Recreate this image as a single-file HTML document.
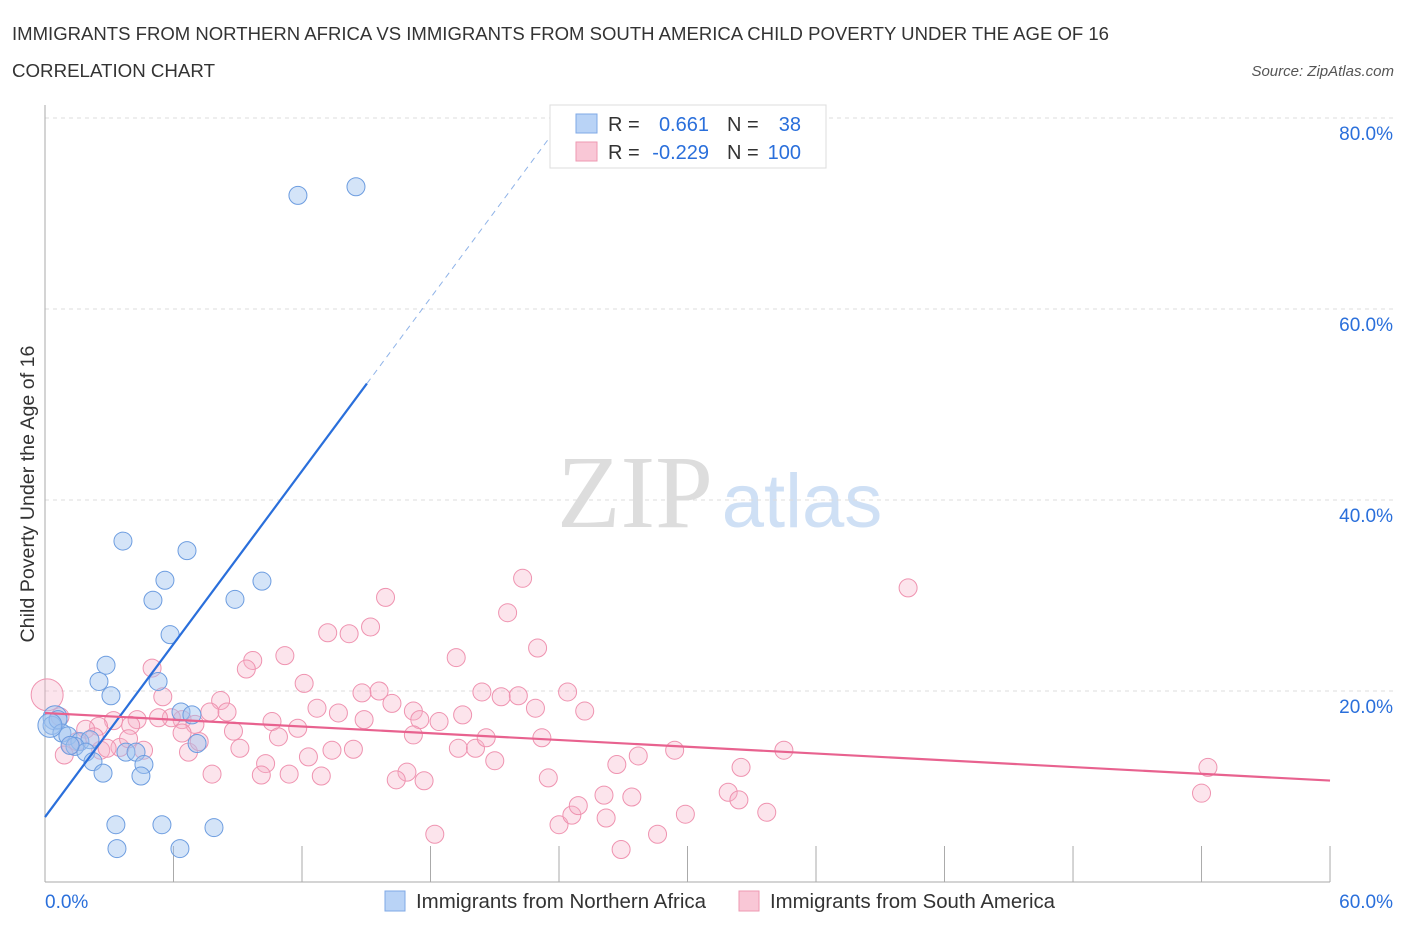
<!DOCTYPE html>
<html><head><meta charset="utf-8"><style>
body{margin:0;background:#fff;font-family:"Liberation Sans",sans-serif;}
</style></head><body>
<svg id="chart" width="1406" height="930" xmlns="http://www.w3.org/2000/svg">
<text x="12" y="40" font-size="18" fill="#333" textLength="1097" lengthAdjust="spacingAndGlyphs">IMMIGRANTS FROM NORTHERN AFRICA VS IMMIGRANTS FROM SOUTH AMERICA CHILD POVERTY UNDER THE AGE OF 16</text>
<text x="12" y="77" font-size="18" fill="#333" textLength="203" lengthAdjust="spacingAndGlyphs">CORRELATION CHART</text>
<text x="1394" y="76" font-size="15" fill="#555" font-style="italic" text-anchor="end">Source: ZipAtlas.com</text>
<text x="635" y="527" font-size="104" fill="#ddd" font-family="Liberation Serif,serif" text-anchor="middle">ZIP</text>
<text x="802" y="527" font-size="76" fill="#cfe0f5" text-anchor="middle">atlas</text>
<text x="34" y="494" font-size="19" fill="#333" text-anchor="middle" transform="rotate(-90 34 494)" textLength="297" lengthAdjust="spacingAndGlyphs">Child Poverty Under the Age of 16</text>
<g id="grid"></g><g id="pts"></g><g id="lines"></g>
<rect x="550" y="105" width="276" height="63" fill="#fff" stroke="#ddd"/>
<rect x="576" y="114" width="21" height="19" fill="#b9d3f6" stroke="#7fa8e6"/>
<rect x="576" y="142" width="21" height="19" fill="#f9c7d6" stroke="#ee98b2"/>
<g font-size="20">
<text x="608" y="131" fill="#333">R =</text><text x="709" y="131" fill="#2a6fdb" text-anchor="end">0.661</text>
<text x="727" y="131" fill="#333">N =</text><text x="801" y="131" fill="#2a6fdb" text-anchor="end">38</text>
<text x="608" y="159" fill="#333">R =</text><text x="709" y="159" fill="#2a6fdb" text-anchor="end">-0.229</text>
<text x="727" y="159" fill="#333">N =</text><text x="801" y="159" fill="#2a6fdb" text-anchor="end">100</text>
</g>
<rect x="385" y="891" width="20" height="20" fill="#b9d3f6" stroke="#7fa8e6"/>
<text x="416" y="908" font-size="20" fill="#333" textLength="290" lengthAdjust="spacingAndGlyphs">Immigrants from Northern Africa</text>
<rect x="739" y="891" width="20" height="20" fill="#f9c7d6" stroke="#ee98b2"/>
<text x="770" y="908" font-size="20" fill="#333" textLength="285" lengthAdjust="spacingAndGlyphs">Immigrants from South America</text>
</svg>
<script>
const yTicks=[20,40,60,80];
const xTickLabels=["0.0%","60.0%"];
const blueX=[11.81,14.52,3.64,6.63,5.60,10.13,5.04,8.87,5.84,2.85,2.52,5.28,3.08,6.35,6.86,7.10,0.47,0.33,0.61,0.79,1.07,1.63,2.10,1.40,1.91,2.24,2.71,3.78,4.25,4.62,4.48,3.31,5.46,7.89,3.36,6.30,1.17,0.23];
const blueY=[71.9,72.8,35.7,34.7,31.6,31.5,29.5,29.6,25.9,22.7,21.0,21.0,19.5,17.8,17.5,14.5,17.2,16.4,17.0,15.6,15.3,14.7,14.9,14.2,13.6,12.6,11.4,13.6,13.6,12.3,11.1,6.0,6.0,5.7,3.5,3.5,14.3,16.4];
const pinkX=[40.3,22.3,15.9,21.6,15.2,14.2,13.2,23.0,19.2,11.2,9.7,9.4,5.0,5.5,12.1,8.2,14.8,15.6,16.2,20.4,21.3,22.1,24.4,25.2,22.9,19.5,17.2,18.4,17.5,17.2,12.7,13.7,14.9,10.6,11.8,8.8,9.1,10.9,7.7,8.5,6.4,5.9,7.0,5.3,4.3,4.0,3.2,2.5,1.9,0.7,0.1,1.2,1.5,2.6,3.5,3.9,4.6,6.7,7.2,6.4,12.3,13.4,14.4,16.9,16.4,17.7,10.3,10.1,11.4,12.9,7.8,19.3,20.1,21.0,20.6,23.2,26.7,27.7,29.4,34.5,32.5,23.5,24.0,24.6,24.9,26.1,27.4,26.2,26.9,28.6,29.9,31.9,32.4,33.7,54.3,54.0,18.2,2.3,2.9,0.9];
const pinkY=[30.8,31.8,29.8,28.2,26.7,26.0,26.1,24.5,23.5,23.7,23.2,22.3,22.4,19.4,20.8,19.0,19.8,20.0,18.7,19.9,19.4,19.5,19.9,17.9,18.2,17.5,17.9,16.8,17.0,15.4,18.2,17.7,17.0,16.8,16.1,15.8,14.0,15.2,17.8,17.8,17.0,17.2,16.5,17.2,17.0,16.4,16.9,16.3,16.0,17.3,19.6,14.3,14.7,13.8,14.1,15.0,13.8,13.6,14.7,15.6,13.1,13.8,13.9,11.5,10.7,10.6,12.4,11.2,11.3,11.1,11.3,14.0,14.0,12.7,15.1,15.1,12.3,13.2,13.8,13.8,12.0,10.9,6.0,7.0,8.0,9.1,8.9,6.7,3.4,5.0,7.1,9.4,8.6,7.3,12.0,9.3,5.0,15.2,14.0,13.3];
const blueLine=[6.8,3.02]; // intercept, slope
const pinkLine=[17.7,-0.118];
const X=v=>45+v*21.417, Y=v=>882-v*9.55;
const NS="http://www.w3.org/2000/svg";
function mk(t,a,p){const e=document.createElementNS(NS,t);for(const k in a)e.setAttribute(k,a[k]);p.appendChild(e);return e;}
const g=document.getElementById('grid');
yTicks.forEach(t=>{
 const l=mk('line',{x1:45,x2:1394,y1:Y(t),y2:Y(t),stroke:'#ddd','stroke-dasharray':'4,4'},g);
 
 
 const tx=mk('text',{x:1393,y:Y(t)+22,'font-size':19,fill:'#2a6fdb','text-anchor':'end'},g);
 tx.textContent=t.toFixed(1)+'%';
 
 
});
const ax=mk('line',{x1:45,x2:45,y1:105,y2:882,stroke:'#aaa'},g);


const bx=mk('line',{x1:45,x2:1330,y1:882,y2:882,stroke:'#aaa'},g);


for(let i=0;i<=10;i++){const v=i*6;const t=mk('line',{x1:X(v),x2:X(v),y1:846,y2:882,stroke:'#aaa'},g);
 
 }
[0,60].forEach((v,i)=>{const t=mk('text',{x:i?1393:45,y:908,'font-size':19,fill:'#2a6fdb','text-anchor':i?'end':'start'},g);t.textContent=xTickLabels[i];
 
 });
const p=document.getElementById('pts');
pinkX.forEach((x,i)=>{const c=mk('circle',{cx:X(x),cy:Y(pinkY[i]),r:i==50?16:9,fill:'rgba(246,178,200,0.35)',stroke:'#ef93b0','stroke-width':1},p);
 
 });
blueX.forEach((x,i)=>{const c=mk('circle',{cx:X(x),cy:Y(blueY[i]),r:(i==16||i==37)?12:9,fill:'rgba(160,195,240,0.45)',stroke:'#6d9de0','stroke-width':1},p);
 
 });
const L=document.getElementById('lines');
const bEnd=15.03, bDash=(80-blueLine[0])/blueLine[1];
const b1=mk('line',{x1:X(0),y1:Y(blueLine[0]),x2:X(bEnd),y2:Y(blueLine[0]+blueLine[1]*bEnd),stroke:'#2a6fdb','stroke-width':2.2},L);


const b2=mk('line',{x1:X(bEnd),y1:Y(blueLine[0]+blueLine[1]*bEnd),x2:X(bDash),y2:Y(80),stroke:'#8fb3e8','stroke-width':1,'stroke-dasharray':'6,5'},L);


const p1=mk('line',{x1:X(0),y1:Y(pinkLine[0]),x2:X(60),y2:Y(pinkLine[0]+pinkLine[1]*60),stroke:'#e8628f','stroke-width':2.2},L);


</script>
</body></html>
